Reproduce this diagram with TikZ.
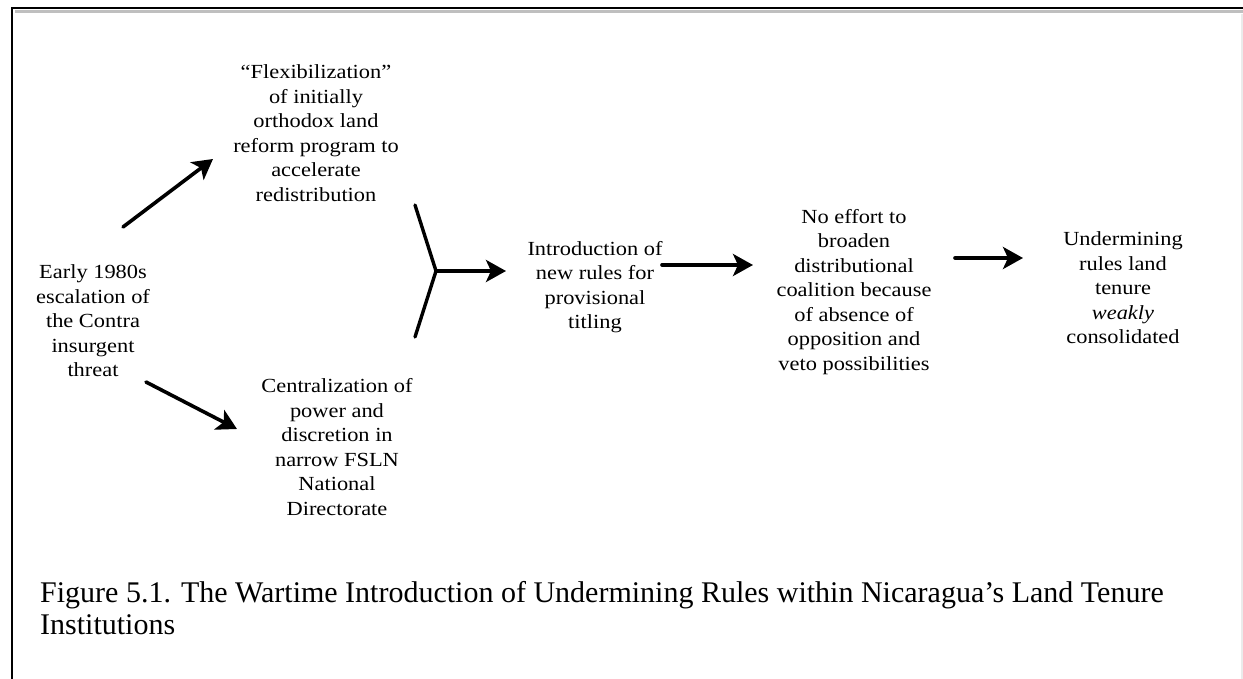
\documentclass[tikz,border=0pt]{standalone}
\usepackage{fontspec}
\setmainfont{Liberation Serif}
\newfontfamily\stagefont[FakeStretch=1.12]{Liberation Serif}
\usetikzlibrary{arrows.meta}
\begin{document}
\begin{tikzpicture}[x=1pt,y=-1pt,
  stage/.style={align=center, inner sep=0pt,
    font=\stagefont\fontsize{20}{24.5}\selectfont},
  flow/.style={line width=3.6pt, line cap=round,
    -{Stealth[length=20pt,width=22pt,inset=5pt]}},
  fork/.style={line width=3.4pt, line cap=round, line join=miter},
  figcaption/.style={anchor=base west, align=left, inner sep=0pt,
    font=\fontsize{30}{32}\selectfont}]
\useasboundingbox (0,0) rectangle (1243,679);
\fill[white] (0,0) rectangle (1243,679);

% page frame: thick rule on top and left, faint edge on the right
\draw[black!25, line width=3pt] (15,12) -- (1243,12);
\draw[line width=2.6pt] (12,681) -- (12,8) -- (1245,8);
\draw[black!8, line width=1.5pt] (1242,14) -- (1242,679);

% stages
\node[stage] (early) at (93,321) {Early 1980s\\escalation of\\the Contra\\insurgent\\threat};
\node[stage] (flex) at (316,133) {“Flexibilization”\\of initially\\orthodox land\\reform program to\\accelerate\\redistribution};
\node[stage] (central) at (337,447) {Centralization of\\power and\\discretion in\\narrow FSLN\\National\\Directorate};
\node[stage] (intro) at (595,287) {Introduction of\\new rules for\\provisional\\titling};
\node[stage] (noeffort) at (854,292) {No effort to\\broaden\\distributional\\coalition because\\of absence of\\opposition and\\veto possibilities};
\node[stage] (under) at (1123,288) {Undermining\\rules land\\tenure\\\textit{weakly}\\consolidated};

% connector end points
\coordinate (e1) at (123,227);
\coordinate (f1) at (213,159);
\coordinate (e2) at (146,382);
\coordinate (c1) at (237,429);
\coordinate (fu) at (415,205);
\coordinate (fj) at (436,271);
\coordinate (fl) at (415,337);
\coordinate (fi) at (506,271);
\coordinate (i1) at (662,265);
\coordinate (n1) at (753,265);
\coordinate (n2) at (955,258);
\coordinate (u1) at (1023,258);

% connectors
\draw[flow] (e1) -- (f1);
\draw[flow] (e2) -- (c1);
\draw[fork] (fu) -- (fj) -- (fl);
\draw[flow] (fj) -- (fi);
\draw[flow] (i1) -- (n1);
\draw[flow] (n2) -- (u1);

% caption (base anchor sits on the last line)
\node[figcaption] (cap) at (40,634) {Figure 5.1. The Wartime Introduction of Undermining Rules within Nicaragua’s Land Tenure\\Institutions};
\end{tikzpicture}
\end{document}
